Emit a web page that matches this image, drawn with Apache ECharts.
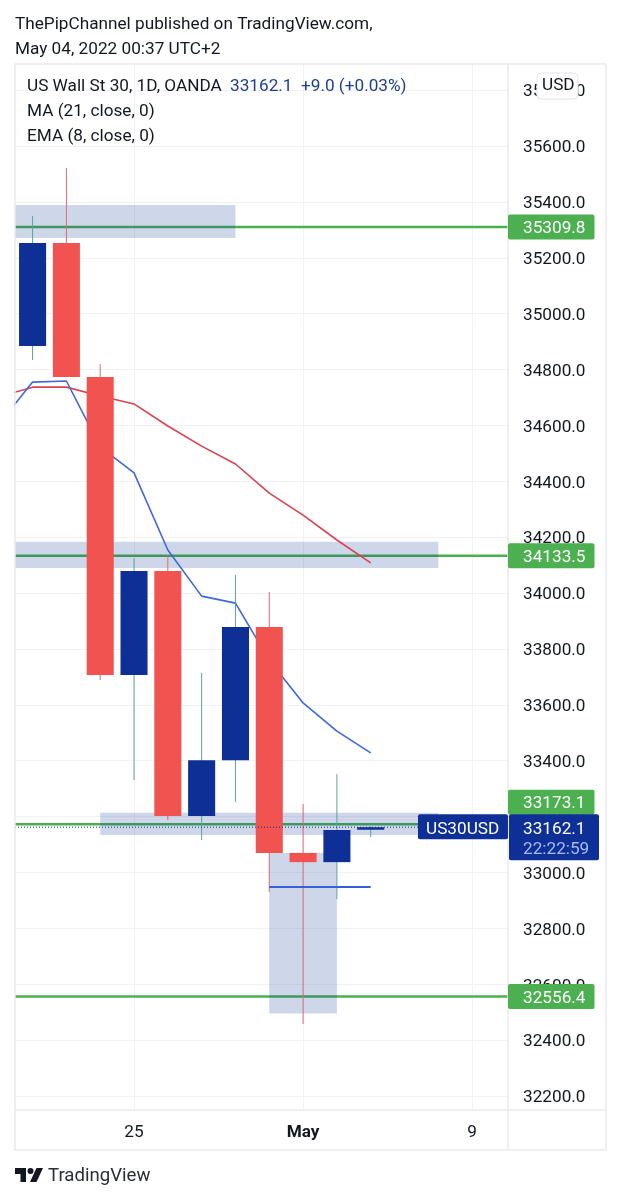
<!DOCTYPE html>
<html><head><meta charset="utf-8">
<script src="https://cdn.jsdelivr.net/npm/echarts@6/dist/echarts.min.js"></script>
<style>html,body{margin:0;padding:0;background:#fff}#c{width:621px;height:1200px}</style>
</head><body><div id="c"></div>
<script>
// [open, close, low, high]
const candles = [
  [34884,35253,34834,35350],
  [35253,34773,34773,35521],
  [34773,33707,33689,34820],
  [33707,34079,33331,34125],
  [34079,33202,33188,34136],
  [33202,33402,33116,33714],
  [33402,33879,33252,34065],
  [33879,33070,32930,34004],
  [33070,33037,32458,33245],
  [33037,33152,32905,33352],
  [33153,33162.1,33127,33165]
];
const barIndex = [-1,0,1,2,3,4,5,6,7,8,9,10];
const ema8 = [34605,34755,34759,34523,34430,34154,33989,33964,33760,33607,33506,33428];
const ma21 = [34702,34737,34737,34705,34677,34598,34526,34462,34358,34279,34190,34108];
const greenLevels = [35309.8,34133.5,33173.1,32556.4];
// [x from, x to, price top, price bottom]
const zones = [
  [-0.52,6,35389,35271],
  [-0.52,12,34184,34090],
  [2,12,33214,33134],
  [7,9,33070,32495]
];
const targetLine = [[7,32948],[10,32948]];
const lastPrice = 33162.1;
const yTicks = [32200,32400,32600,32800,33000,33200,33400,33600,33800,34000,34200,34400,34600,34800,35000,35200,35400,35600,35800];
const xTicks = [3,8,13];
const xTickLabels = ['25','May','9'];

const FONT = 'Roboto';
const FS = 17.2;
const INK = '#131722';
const BLUE = '#0d2f96';
const RED = '#f05350';
const GREEN = '#4caf50';
const FRAME = '#e8eaee';
const L=15, R=508, T=64, B=1110, RIGHT=606, BOTTOM=1150;

function txt(x,y,text,fill,extra){
  return {type:'text',x,y:y+2,z:100,style:Object.assign({text,fill:fill||INK,font:FS+'px '+FONT,textVerticalAlign:'middle'},extra||{})};
}
const chart = echarts.init(document.getElementById('c'),null,{renderer:'canvas'});
chart.setOption({
  animation:false,
  backgroundColor:'#fff',
  grid:{left:L,top:T,width:R-L,height:B-T,containLabel:false},
  xAxis:{type:'value',min:-0.52,max:14.06,
    axisLine:{show:false},
    axisTick:{show:false,customValues:xTicks},
    splitLine:{show:true,lineStyle:{color:'#f0f2f6',width:1}},
    axisLabel:{customValues:xTicks,margin:14,fontFamily:FONT,fontSize:FS,color:INK,hideOverlap:false,
      formatter:v=>{const s=xTickLabels[xTicks.indexOf(v)];return s==='May'?'{b|May}':s;},
      rich:{b:{fontFamily:FONT,fontSize:FS,fontWeight:'bold',color:INK}}}
  },
  yAxis:{type:'value',position:'right',min:32150,max:35893.5,
    axisLine:{show:false},
    axisTick:{show:false,customValues:yTicks},
    splitLine:{show:true,lineStyle:{color:'#f0f2f6',width:1}},
    axisLabel:{customValues:yTicks,margin:15,fontFamily:FONT,fontSize:FS,color:INK,hideOverlap:false,
      showMinLabel:true,showMaxLabel:true,formatter:v=>'{a|'+v.toFixed(1)+'}',
      rich:{a:{fontFamily:FONT,fontSize:FS,color:INK,padding:[4,0,0,0]}}}
  },
  series:[
    {type:'custom',name:'levels',z:2,data:greenLevels.map(v=>[v]),encode:{y:0},
      renderItem:(p,api)=>{const y=api.coord([0,api.value(0)])[1];
        return {type:'line',shape:{x1:L,y1:y,x2:R,y2:y},style:{stroke:GREEN,lineWidth:2.5}};}},
    {type:'custom',name:'zones',z:3,data:zones,encode:{x:[0,1],y:[2,3]},
      renderItem:(p,api)=>{const a=api.coord([api.value(0),api.value(2)]),b=api.coord([api.value(1),api.value(3)]);
        return {type:'rect',shape:{x:a[0],y:a[1],width:b[0]-a[0],height:b[1]-a[1]},style:{fill:'rgba(10,55,150,0.2)'}};}},
    {type:'line',name:'MA (21, close, 0)',z:4,showSymbol:false,symbol:'none',clip:true,
      data:barIndex.map((x,i)=>[x,ma21[i]]),lineStyle:{color:'#d9434f',width:1.6}},
    {type:'line',name:'EMA (8, close, 0)',z:4,showSymbol:false,symbol:'none',clip:true,
      data:barIndex.map((x,i)=>[x,ema8[i]]),lineStyle:{color:'#3f68d6',width:1.6}},
    {type:'custom',name:'US Wall St 30',z:5,data:candles.map((c,i)=>[i].concat(c)),encode:{x:0,y:[1,2,3,4]},
      renderItem:(p,api)=>{
        const i=api.value(0),o=api.value(1),c=api.value(2),lo=api.value(3),hi=api.value(4);
        const w=api.size([1,0])[0]*0.8;
        const xc=api.coord([i,o])[0];
        const yo=api.coord([i,o])[1],yc=api.coord([i,c])[1];
        const up=c>=o;
        return {type:'group',children:[
          {type:'line',shape:{x1:xc,y1:api.coord([i,hi])[1],x2:xc,y2:api.coord([i,lo])[1]},
            style:{stroke:up?'#5aa39b':'#dc6a70',lineWidth:1}},
          {type:'rect',shape:{x:xc-w/2,y:Math.min(yo,yc),width:w,height:Math.abs(yc-yo)},style:{fill:up?BLUE:RED}}
        ]};
      }},
    {type:'line',name:'target',z:6,showSymbol:false,symbol:'none',data:targetLine,lineStyle:{color:'#3560d8',width:2}},
    {type:'custom',name:'last',z:6,data:[[lastPrice]],encode:{y:0},
      renderItem:(p,api)=>{const y=api.coord([0,api.value(0)])[1];
        return {type:'line',shape:{x1:L,y1:y,x2:R,y2:y},style:{stroke:BLUE,lineWidth:1,lineDash:[1,2]}};}},
    {type:'custom',name:'tags',z:8,data:greenLevels.map(v=>[v]),encode:{y:0},
      renderItem:(p,api)=>{
        const v=api.value(0);
        let y=api.coord([0,v])[1];
        if(Math.abs(v-lastPrice)<50) y-=22;
        return {type:'group',children:[
          {type:'rect',shape:{x:R,y:y-12.5,width:86.5,height:25,r:2},style:{fill:GREEN}},
          {type:'text',x:523,y:y+2,style:{text:v.toFixed(1),fill:'#fff',font:FS+'px '+FONT,textVerticalAlign:'middle'}}
        ]};
      }},
    {type:'custom',name:'lastTag',z:9,data:[[lastPrice]],encode:{y:0},
      renderItem:(p,api)=>{
        const y=api.coord([0,api.value(0)])[1];
        return {type:'group',children:[
          {type:'rect',shape:{x:418,y:y-13,width:90,height:25,r:2},style:{fill:BLUE}},
          {type:'text',x:426,y:y+2,style:{text:'US30USD',fill:'#fff',font:FS+'px '+FONT,textVerticalAlign:'middle'}},
          {type:'rect',shape:{x:R+1,y:y-13,width:90,height:46,r:2},style:{fill:BLUE}},
          {type:'text',x:523,y:y+2,style:{text:api.value(0).toFixed(1),fill:'#fff',font:FS+'px '+FONT,textVerticalAlign:'middle'}},
          {type:'text',x:523,y:y+22,style:{text:'22:22:59',fill:'#a8bbf0',font:FS+'px '+FONT,textVerticalAlign:'middle'}}
        ]};
      }}
  ],
  graphic:[
    txt(15,23,'ThePipChannel published on TradingView.com,'),
    txt(15,48,'May 04, 2022 00:37 UTC+2'),
    {type:'rect',z:50,shape:{x:L,y:T,width:RIGHT-L,height:BOTTOM-T},style:{fill:'none',stroke:FRAME,lineWidth:1.5}},
    {type:'line',z:50,shape:{x1:L,y1:B,x2:RIGHT,y2:B},style:{stroke:FRAME,lineWidth:1.5}},
    {type:'line',z:7,shape:{x1:R,y1:T,x2:R,y2:BOTTOM},style:{stroke:FRAME,lineWidth:1.5}},
    txt(27,85,'US Wall St 30, 1D, OANDA'),
    txt(230,85,'33162.1','#1d3f8f'),
    txt(301,85,'+9.0 (+0.03%)','#1d3f8f'),
    txt(27,109.5,'MA (21, close, 0)'),
    txt(27,134.5,'EMA (8, close, 0)'),
    {type:'rect',z:60,shape:{x:537,y:73,width:41,height:26,r:4},style:{fill:'#fff',stroke:'#e0e3eb',lineWidth:1}},
    txt(542,84,'USD',INK,{}),
    {type:'polygon',z:60,shape:{points:[[15,1168],[26,1168],[26,1182],[20.5,1182],[20.5,1174],[15,1174]]},style:{fill:INK}},
    {type:'circle',z:60,shape:{cx:30.5,cy:1171,r:3},style:{fill:INK}},
    {type:'polygon',z:60,shape:{points:[[36.5,1168],[43,1168],[36.5,1182],[30,1182]]},style:{fill:INK}},
    txt(48,1174,'TradingView','#2a2e39',{font:'18.6px '+FONT})
  ]
});
</script></body></html>
